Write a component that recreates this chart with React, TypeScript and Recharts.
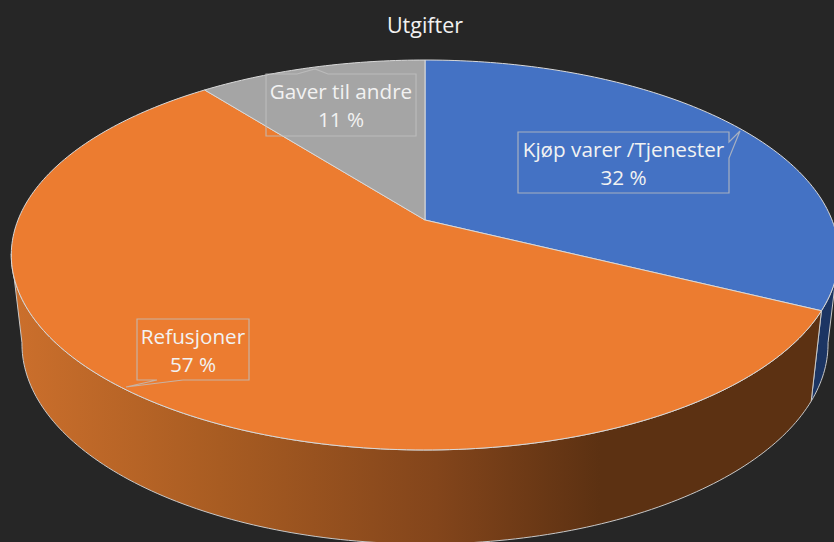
import React from "react";
import { PieChart, Pie } from "recharts";

const categories = ["Kjøp varer /Tjenester", "Refusjoner", "Gaver til andre"];
const shares = [32.3, 57.1, 10.6];
const topColors = ["#4472C4", "#EC7C30", "#A5A5A5"];
const wallColors = ["#1C3563", "url(#refusjonWall)", "#636363"];

const pieData = categories.map((name, i) => ({
  name,
  value: shares[i],
  fill: topColors[i],
  wallFill: wallColors[i],
}));

// callout outlines, in page pixels
const callouts = [
  { x: 518, y: 132, w: 211, h: 61, tail: "M518 132H729V142L740 131L729 158V193H518Z" },
  { x: 137, y: 319, w: 112, h: 61, tail: "M137 319H249V380H183L126 387L157 380H137Z" },
  { x: 266, y: 74, w: 150, h: 62, tail: "M266 74H297L315 69L328 74H416V136H266Z" },
];

const WIDTH = 834;
const HEIGHT = 542;
const FONT = "'Open Sans', 'Noto Sans', sans-serif";

// the tilted disc: perspective squeezes the far side of each rim
const TOP_RIM = { cx: 425, cy: 220, rx: 407, ry: 188.7, k: 0.1795 };
const BOTTOM_RIM = { cx: 425, cy: 308, rx: 396.5, ry: 193.6, k: 0.1795 };

const project = (rim: typeof TOP_RIM, theta: number) => {
  const rad = (theta * Math.PI) / 180;
  const u = Math.sin(rad);
  const v = -Math.cos(rad);
  const w = 1 - rim.k * v;
  return [rim.cx + (rim.rx * u) / w, rim.cy + (rim.ry * v) / w];
};

const arcPoints = (rim: typeof TOP_RIM, from: number, to: number) => {
  const steps = Math.max(2, Math.ceil(Math.abs(to - from)));
  const pts: string[] = [];
  for (let i = 0; i <= steps; i++) {
    const [x, y] = project(rim, from + ((to - from) * i) / steps);
    pts.push(`${x.toFixed(2)} ${y.toFixed(2)}`);
  }
  return pts;
};

const TopSector = (props: any) => {
  const from = 90 - props.startAngle;
  const to = 90 - props.endAngle;
  const d = `M${TOP_RIM.cx} ${TOP_RIM.cy}L${arcPoints(TOP_RIM, from, to).join("L")}Z`;
  return <path d={d} fill={props.fill} stroke="#D9D9D9" strokeWidth={1} strokeLinejoin="round" />;
};

const WallSector = (props: any) => {
  // only the front of the drum can be seen, cut where the rim turns away
  const from = Math.max(90 - props.startAngle, 100);
  const to = Math.min(90 - props.endAngle, 260);
  if (to <= from) return null;
  const upper = arcPoints(TOP_RIM, from, to);
  const lower = arcPoints(BOTTOM_RIM, to, from);
  const d = `M${upper.concat(lower).join("L")}Z`;
  return <path d={d} fill={props.payload?.wallFill ?? props.wallFill} stroke="#C8C8C8" strokeWidth={1} strokeLinejoin="round" />;
};

const CalloutLabel = (props: any) => {
  const box = callouts[props.index];
  const cx = box.x + box.w / 2;
  return (
    <g>
      <path d={box.tail} fill="none" stroke="#BFBFBF" strokeOpacity={0.8} strokeWidth={1.2} />
      <text x={cx} y={box.y + 25} textAnchor="middle" fontFamily={FONT} fontSize={20.7} fill="#F2F2F2">
        {props.name}
      </text>
      <text x={cx} y={box.y + 53} textAnchor="middle" fontFamily={FONT} fontSize={20.7} fill="#F2F2F2">
        {`${Math.round(props.value)} %`}
      </text>
    </g>
  );
};

export default function App() {
  return (
    <div style={{ position: "absolute", left: 0, top: 0, width: WIDTH, height: HEIGHT, background: "#262626", overflow: "hidden" }}>
      <PieChart width={WIDTH} height={HEIGHT} margin={{ top: 0, right: 0, bottom: 0, left: 0 }}>
        <defs>
          <linearGradient id="refusjonWall" gradientUnits="userSpaceOnUse" x1="15" y1="0" x2="600" y2="0">
            <stop offset="0" stopColor="#CB6F2C" />
            <stop offset="0.35" stopColor="#A85C22" />
            <stop offset="0.72" stopColor="#83451B" />
            <stop offset="1" stopColor="#5C3112" />
          </linearGradient>
        </defs>
        <text x={425} y={33} textAnchor="middle" fontFamily={FONT} fontSize={21.5} fill="#F2F2F2">
          Utgifter
        </text>
        <Pie
          data={pieData}
          dataKey="value"
          nameKey="name"
          cx={425}
          cy={220}
          outerRadius={190}
          startAngle={90}
          endAngle={-270}
          isAnimationActive={false}
          label={false}
          labelLine={false}
          shape={WallSector}
        />
        <Pie
          data={pieData}
          dataKey="value"
          nameKey="name"
          cx={425}
          cy={220}
          outerRadius={190}
          startAngle={90}
          endAngle={-270}
          isAnimationActive={false}
          label={CalloutLabel}
          labelLine={false}
          shape={TopSector}
        />
      </PieChart>
    </div>
  );
}
